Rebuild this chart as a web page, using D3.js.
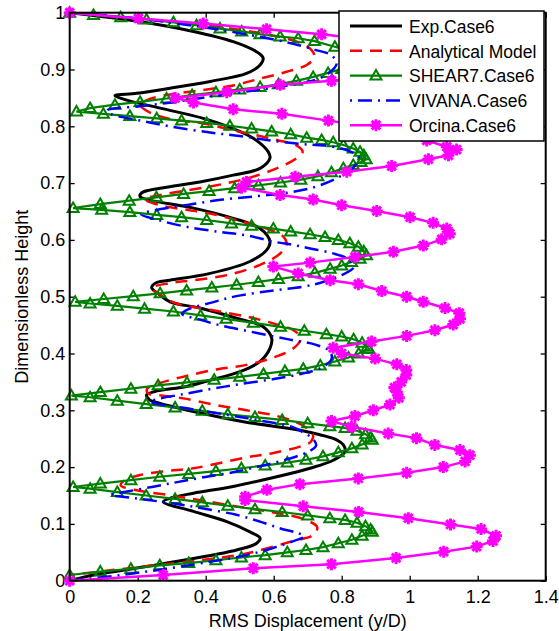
<!DOCTYPE html>
<html><head><meta charset="utf-8">
<script src="https://cdn.jsdelivr.net/npm/d3@7"></script>
<style>body{margin:0;background:#fff}svg text{font-family:Arial,"Liberation Sans",Helvetica,sans-serif}</style>
</head><body><svg id="c" width="559" height="631"></svg>
<script>
const xTicks=[0,0.2,0.4,0.6,0.8,1,1.2,1.4];
const xTickLabels=["0","0.2","0.4","0.6","0.8","1","1.2","1.4"];
const yTicks=[0,0.1,0.2,0.3,0.4,0.5,0.6,0.7,0.8,0.9,1];
const yTickLabels=["0","0.1","0.2","0.3","0.4","0.5","0.6","0.7","0.8","0.9","1"];
const xLabel="RMS Displacement (y/D)";
const yLabel="Dimensionless Height";
const seriesNames=["Exp.Case6","Analytical Model","SHEAR7.Case6","VIVANA.Case6","Orcina.Case6"];

const expCase6=[[0,0],[0.07,0.01],[0.226,0.025],[0.364,0.039],[0.491,0.054],[0.55,0.066],[0.56,0.075],[0.53,0.086],[0.462,0.104],[0.364,0.122],[0.275,0.139],[0.30,0.146],[0.364,0.154],[0.481,0.166],[0.609,0.183],[0.707,0.198],[0.775,0.212],[0.81,0.227],[0.805,0.239],[0.785,0.248],[0.736,0.257],[0.677,0.265],[0.511,0.28],[0.364,0.298],[0.266,0.312],[0.236,0.318],[0.226,0.327],[0.25,0.333],[0.344,0.342],[0.413,0.353],[0.501,0.368],[0.56,0.386],[0.589,0.409],[0.594,0.427],[0.569,0.447],[0.491,0.462],[0.383,0.48],[0.295,0.491],[0.266,0.503],[0.241,0.516],[0.256,0.525],[0.295,0.529],[0.413,0.541],[0.53,0.562],[0.579,0.582],[0.589,0.597],[0.56,0.62],[0.481,0.638],[0.364,0.656],[0.236,0.67],[0.207,0.676],[0.212,0.683],[0.266,0.691],[0.383,0.702],[0.481,0.714],[0.56,0.726],[0.589,0.744],[0.584,0.755],[0.54,0.779],[0.481,0.796],[0.393,0.814],[0.266,0.832],[0.168,0.846],[0.133,0.854],[0.197,0.858],[0.295,0.867],[0.413,0.879],[0.52,0.893],[0.56,0.908],[0.569,0.92],[0.55,0.931],[0.481,0.949],[0.364,0.967],[0.2,0.985],[0,1]];

const analytical=[[0,1.0],[0.2,0.99],[0.4,0.978],[0.55,0.965],[0.668,0.949],[0.71,0.935],[0.72,0.922],[0.697,0.908],[0.638,0.896],[0.56,0.884],[0.481,0.872],[0.393,0.864],[0.295,0.856],[0.235,0.848],[0.207,0.838],[0.23,0.826],[0.295,0.813],[0.393,0.805],[0.481,0.793],[0.609,0.776],[0.668,0.766],[0.685,0.755],[0.665,0.743],[0.609,0.726],[0.52,0.708],[0.413,0.694],[0.266,0.679],[0.221,0.672],[0.266,0.661],[0.344,0.653],[0.432,0.644],[0.506,0.632],[0.579,0.62],[0.628,0.606],[0.638,0.592],[0.619,0.576],[0.56,0.556],[0.462,0.538],[0.364,0.529],[0.295,0.524],[0.241,0.515],[0.266,0.503],[0.315,0.488],[0.413,0.477],[0.52,0.465],[0.599,0.453],[0.658,0.441],[0.68,0.427],[0.66,0.41],[0.60,0.393],[0.52,0.38],[0.432,0.372],[0.34,0.36],[0.266,0.348],[0.228,0.338],[0.23,0.33],[0.27,0.326],[0.334,0.321],[0.432,0.309],[0.52,0.30],[0.609,0.29],[0.68,0.275],[0.715,0.258],[0.71,0.245],[0.677,0.236],[0.599,0.225],[0.52,0.217],[0.364,0.198],[0.285,0.193],[0.207,0.186],[0.16,0.176],[0.15,0.168],[0.19,0.16],[0.3,0.15],[0.4,0.14],[0.5,0.13],[0.6,0.12],[0.69,0.108],[0.728,0.094],[0.715,0.08],[0.658,0.07],[0.52,0.048],[0.383,0.036],[0.217,0.025],[0,0.01]];

const shear7=[[0,0.010],[0.09,0.016],[0.18,0.021],[0.265,0.027],[0.35,0.031],[0.43,0.036],[0.505,0.041],[0.575,0.045],[0.64,0.050],[0.695,0.054],[0.745,0.059],[0.79,0.066],[0.83,0.072],[0.86,0.079],[0.89,0.086],
[0.885,0.090],[0.87,0.096],[0.845,0.102],[0.81,0.107],[0.765,0.110],[0.70,0.115],[0.625,0.121],[0.545,0.126],[0.465,0.132],[0.39,0.138],[0.31,0.144],[0.225,0.150],[0.14,0.156],[0.06,0.162],[0.01,0.165],
[0.09,0.171],[0.18,0.177],[0.265,0.183],[0.35,0.188],[0.43,0.193],[0.505,0.198],[0.575,0.203],[0.64,0.208],[0.695,0.213],[0.745,0.219],[0.79,0.226],[0.83,0.233],[0.86,0.240],[0.89,0.248],
[0.885,0.252],[0.87,0.258],[0.845,0.264],[0.81,0.269],[0.765,0.272],[0.70,0.277],[0.625,0.283],[0.545,0.288],[0.465,0.293],[0.39,0.299],[0.31,0.305],[0.225,0.311],[0.14,0.317],[0.06,0.323],[0.005,0.326],
[0.09,0.332],[0.18,0.338],[0.26,0.344],[0.345,0.349],[0.425,0.354],[0.50,0.359],[0.57,0.364],[0.633,0.369],[0.687,0.373],[0.737,0.379],[0.78,0.386],[0.82,0.393],[0.85,0.400],[0.88,0.408],
[0.875,0.412],[0.86,0.419],[0.835,0.425],[0.80,0.430],[0.755,0.434],[0.69,0.440],[0.62,0.447],[0.54,0.454],[0.46,0.461],[0.385,0.467],[0.305,0.474],[0.22,0.479],[0.14,0.484],[0.06,0.488],[0.016,0.491],
[0.10,0.496],[0.187,0.501],[0.266,0.506],[0.344,0.511],[0.418,0.516],[0.491,0.521],[0.555,0.526],[0.614,0.531],[0.672,0.536],[0.721,0.542],[0.766,0.549],[0.80,0.555],[0.829,0.561],[0.854,0.567],[0.873,0.573],
[0.865,0.580],[0.849,0.588],[0.824,0.594],[0.79,0.600],[0.751,0.605],[0.707,0.610],[0.65,0.615],[0.599,0.620],[0.535,0.625],[0.476,0.629],[0.403,0.635],[0.329,0.640],[0.256,0.644],[0.177,0.649],[0.094,0.653],[0.01,0.656],
[0.09,0.663],[0.175,0.669],[0.255,0.675],[0.335,0.681],[0.41,0.686],[0.485,0.691],[0.555,0.696],[0.62,0.701],[0.68,0.706],[0.73,0.712],[0.77,0.719],[0.805,0.726],[0.834,0.732],[0.857,0.737],[0.872,0.742],
[0.865,0.749],[0.854,0.755],[0.834,0.761],[0.805,0.767],[0.775,0.772],[0.741,0.776],[0.697,0.780],[0.65,0.786],[0.594,0.791],[0.535,0.796],[0.471,0.801],[0.403,0.806],[0.329,0.810],[0.256,0.814],[0.177,0.818],[0.099,0.822],[0.02,0.826],
[0.06,0.832],[0.133,0.838],[0.207,0.843],[0.285,0.849],[0.36,0.855],[0.43,0.860],[0.50,0.865],[0.56,0.869],[0.614,0.874],[0.667,0.880],[0.716,0.887],[0.76,0.894],[0.80,0.901],[0.835,0.907],[0.86,0.911],[0.88,0.916],
[0.87,0.922],[0.85,0.928],[0.815,0.934],[0.78,0.940],[0.72,0.950],[0.672,0.955],[0.619,0.958],[0.56,0.962],[0.506,0.967],[0.442,0.972],[0.373,0.978],[0.305,0.983],[0.226,0.988],[0.15,0.992],[0.07,0.996],[0,1.0]];

const vivana=[[0,0],[0.15,0.01],[0.295,0.022],[0.42,0.034],[0.52,0.045],[0.6,0.058],[0.66,0.07],[0.69,0.078],[0.67,0.084],[0.62,0.092],[0.56,0.104],[0.49,0.116],[0.393,0.127],[0.315,0.135],[0.22,0.143],[0.168,0.147],[0.12,0.151],[0.16,0.156],[0.25,0.166],[0.32,0.174],[0.393,0.182],[0.481,0.191],[0.57,0.203],[0.658,0.217],[0.705,0.228],[0.725,0.238],[0.715,0.25],[0.69,0.26],[0.658,0.27],[0.56,0.282],[0.462,0.292],[0.36,0.302],[0.27,0.31],[0.236,0.315],[0.26,0.32],[0.33,0.328],[0.42,0.338],[0.5,0.346],[0.6,0.355],[0.68,0.364],[0.74,0.375],[0.77,0.39],[0.765,0.404],[0.72,0.416],[0.66,0.423],[0.6,0.43],[0.52,0.44],[0.44,0.45],[0.38,0.46],[0.33,0.47],[0.35,0.478],[0.42,0.49],[0.49,0.501],[0.6,0.511],[0.69,0.518],[0.74,0.525],[0.80,0.538],[0.835,0.552],[0.82,0.566],[0.77,0.577],[0.707,0.585],[0.658,0.591],[0.599,0.597],[0.52,0.608],[0.442,0.614],[0.344,0.623],[0.26,0.635],[0.21,0.645],[0.25,0.652],[0.35,0.662],[0.45,0.671],[0.55,0.677],[0.64,0.683],[0.72,0.693],[0.79,0.71],[0.835,0.728],[0.85,0.745],[0.82,0.757],[0.75,0.766],[0.677,0.769],[0.579,0.776],[0.5,0.783],[0.413,0.789],[0.295,0.8],[0.2,0.811],[0.12,0.822],[0.11,0.828],[0.2,0.835],[0.3,0.842],[0.41,0.852],[0.53,0.862],[0.63,0.871],[0.707,0.879],[0.76,0.893],[0.785,0.91],[0.77,0.925],[0.72,0.935],[0.638,0.948],[0.5,0.964],[0.364,0.977],[0.2,0.99],[0,1.0]];

const orcina=[[0,0],[0.275,0.01],[0.54,0.022],[0.77,0.029],[0.96,0.04],[1.10,0.051],[1.197,0.06],[1.245,0.07],[1.254,0.079],[1.21,0.091],[1.12,0.099],[0.996,0.11],[0.85,0.121],[0.687,0.131],[0.516,0.142],[0.516,0.148],[0.58,0.16],[0.677,0.17],[0.849,0.18],[0.991,0.19],[1.099,0.20],[1.163,0.21],[1.177,0.221],[1.148,0.23],[1.074,0.239],[1.02,0.251],[0.937,0.259],[0.829,0.271],[0.77,0.281],[0.839,0.29],[0.893,0.30],[0.942,0.31],[0.968,0.322],[0.962,0.332],[0.955,0.34],[0.975,0.35],[0.99,0.362],[0.99,0.371],[0.962,0.381],[0.898,0.391],[0.80,0.40],[0.775,0.41],[0.888,0.421],[0.991,0.431],[1.074,0.441],[1.128,0.451],[1.148,0.461],[1.146,0.471],[1.104,0.48],[1.04,0.491],[0.991,0.50],[0.918,0.51],[0.849,0.522],[0.766,0.529],[0.672,0.541],[0.599,0.553],[0.707,0.56],[0.839,0.57],[0.952,0.579],[1.04,0.59],[1.094,0.601],[1.118,0.611],[1.109,0.62],[1.069,0.63],[1.001,0.64],[0.903,0.651],[0.80,0.661],[0.716,0.671],[0.619,0.679],[0.506,0.692],[0.52,0.702],[0.663,0.711],[0.815,0.72],[0.947,0.73],[1.055,0.742],[1.114,0.749],[1.138,0.759],[1.109,0.764],[1.05,0.775],[0.96,0.787],[0.87,0.80],[0.761,0.81],[0.624,0.822],[0.481,0.83],[0.364,0.842],[0.31,0.85],[0.462,0.86],[0.619,0.873],[0.77,0.88],[0.92,0.89],[1.04,0.90],[1.11,0.91],[1.13,0.92],[1.10,0.93],[1.02,0.94],[0.90,0.951],[0.741,0.962],[0.579,0.971],[0.393,0.981],[0.202,0.99],[0,1.0]];

const svg=d3.select("#c");
const x=d3.scaleLinear().domain([0,1.4]).range([69.7,545.7]);
const y=d3.scaleLinear().domain([0,1]).range([580.7,12.7]);
const FS="18px";

function styleAxis(g){g.select(".domain").remove();g.selectAll(".tick line").attr("stroke","#000").attr("stroke-width",1.3);g.selectAll("text").attr("fill","#000").style("font-size",FS);}
svg.append("g").attr("transform",`translate(0,${y(0)})`)
 .call(d3.axisBottom(x).tickValues(xTicks).tickFormat((d,i)=>xTickLabels[i]).tickSize(-5).tickSizeOuter(0).tickPadding(9.5)).call(styleAxis);
svg.append("g").attr("transform",`translate(0,${y(1)})`)
 .call(d3.axisTop(x).tickValues(xTicks).tickFormat("").tickSize(-5).tickSizeOuter(0)).call(styleAxis);
svg.append("g").attr("transform",`translate(${x(0)},0)`)
 .call(d3.axisLeft(y).tickValues(yTicks).tickFormat((d,i)=>yTickLabels[i]).tickSize(-5).tickSizeOuter(0).tickPadding(4.5)).call(styleAxis);
svg.append("g").attr("transform",`translate(${x(1.4)},0)`)
 .call(d3.axisRight(y).tickValues(yTicks).tickFormat("").tickSize(-5).tickSizeOuter(0)).call(styleAxis);

const plot=svg.append("g");
const smooth=d3.line().x(d=>x(d[0])).y(d=>y(d[1])).curve(d3.curveCatmullRom.alpha(0.5));
const lin=d3.line().x(d=>x(d[0])).y(d=>y(d[1]));

plot.append("path").attr("d",smooth(expCase6)).attr("fill","none").attr("stroke","#000").attr("stroke-width",3).attr("stroke-linejoin","round");
plot.append("path").attr("d",smooth(analytical)).attr("fill","none").attr("stroke","#ff0000").attr("stroke-width",2.5).attr("stroke-dasharray","12,8");
plot.append("path").attr("d",lin(shear7)).attr("fill","none").attr("stroke","#008000").attr("stroke-width",2.2);
const tri="M0,-5.5L5.5,4L-5.5,4Z";
plot.append("g").selectAll("path").data(shear7).join("path").attr("d",tri)
 .attr("transform",d=>`translate(${x(d[0])},${y(d[1])})`).attr("fill","none").attr("stroke","#008000").attr("stroke-width",2);
plot.append("path").attr("d",smooth(vivana)).attr("fill","none").attr("stroke","#0000ff").attr("stroke-width",2.5).attr("stroke-dasharray","14,6,2,6");
plot.append("path").attr("d",lin(orcina)).attr("fill","none").attr("stroke","#ff00ff").attr("stroke-width",2.5);
const star="M-6,0H6M0,-6V6M-4.3,-4.3L4.3,4.3M-4.3,4.3L4.3,-4.3";
plot.append("g").selectAll("path").data(orcina).join("path").attr("d",star)
 .attr("transform",d=>`translate(${x(d[0])},${y(d[1])})`).attr("fill","none").attr("stroke","#ff00ff").attr("stroke-width",3);

// axes box
svg.append("rect").attr("x",x(0)).attr("y",y(1)).attr("width",x(1.4)-x(0)).attr("height",y(0)-y(1))
 .attr("fill","none").attr("stroke","#000").attr("stroke-width",2);

// labels
svg.append("text").attr("x",(x(0)+x(1.4))/2).attr("y",627).attr("text-anchor","middle").style("font-size",FS).text(xLabel);
svg.append("text").attr("transform",`translate(28,${(y(0)+y(1))/2}) rotate(-90)`).attr("text-anchor","middle").style("font-size",FS).text(yLabel);

// legend
const lg=svg.append("g");
lg.append("rect").attr("x",339).attr("y",11).attr("width",205).attr("height",130).attr("fill","#fff").attr("stroke","#000").attr("stroke-width",1.5);
const styles=[
 {c:"#000",w:3,da:null,m:null},
 {c:"#ff0000",w:2.5,da:"12,8",m:null},
 {c:"#008000",w:2.2,da:null,m:"tri"},
 {c:"#0000ff",w:2.5,da:"2,6,14,6",m:null},
 {c:"#ff00ff",w:2.5,da:null,m:"star"}];
seriesNames.forEach((nm,i)=>{
 const yy=26+i*24.8, s=styles[i];
 const ln=lg.append("line").attr("x1",350).attr("x2",402).attr("y1",yy).attr("y2",yy).attr("stroke",s.c).attr("stroke-width",s.w);
 if(s.da) ln.attr("stroke-dasharray",s.da);
 if(s.m==="tri") lg.append("path").attr("d",tri).attr("transform",`translate(376,${yy})`).attr("fill","none").attr("stroke",s.c).attr("stroke-width",2);
 if(s.m==="star") lg.append("path").attr("d",star).attr("transform",`translate(376,${yy})`).attr("fill","none").attr("stroke",s.c).attr("stroke-width",3);
 lg.append("text").attr("x",409).attr("y",yy+6.8).style("font-size","17.5px").text(nm);
});
</script></body></html>
